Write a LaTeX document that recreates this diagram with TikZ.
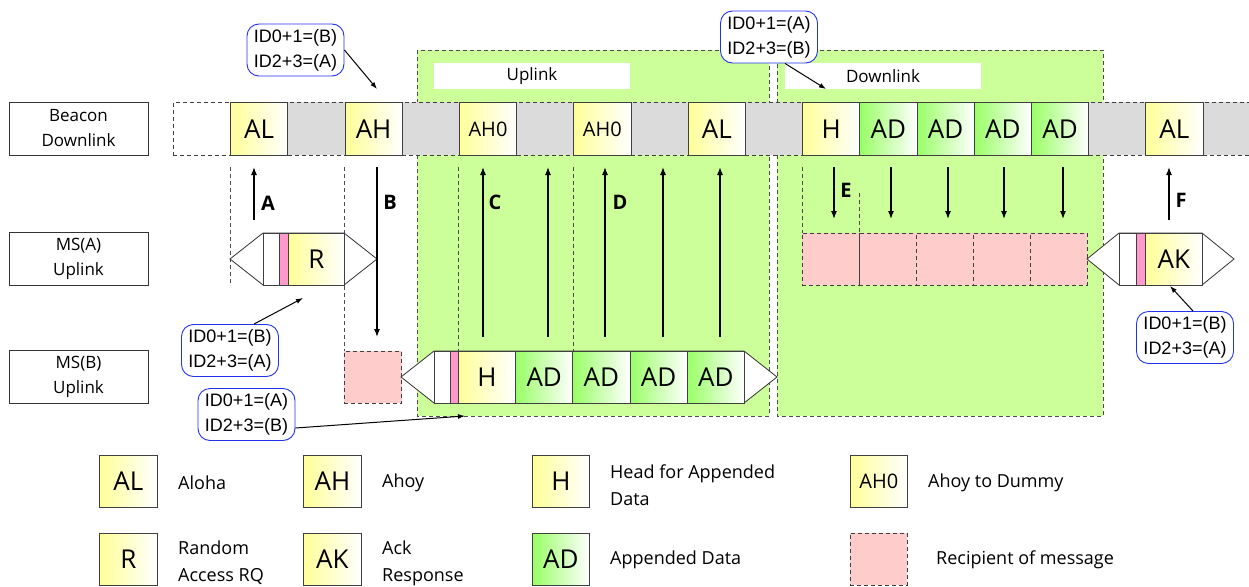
\documentclass[tikz,border=0pt]{standalone}
\usepackage{fontspec}
\setmainfont{Open Sans}
\newfontfamily\arialfont{Liberation Sans}
\usetikzlibrary{arrows.meta,calc}
\definecolor{bggreen}{HTML}{CCFF99}
\definecolor{slotgray}{HTML}{DBDBDB}
\definecolor{slotyel}{HTML}{FFFF99}
\definecolor{slotgrn}{HTML}{99FF66}
\definecolor{rcpink}{HTML}{FFCCCC}
\definecolor{stripe}{HTML}{FF99CC}
\definecolor{callblue}{HTML}{2233EE}
\begin{document}
\begin{tikzpicture}[x=1pt,y=-1pt,
  dashpat/.style={dash pattern=on 4pt off 3pt},
  slotbase/.style={draw=black!75, line width=0.8pt, minimum width=57.2pt, minimum height=53pt, inner sep=0pt, anchor=north west, font=\fontsize{26}{28}\selectfont},
  pslot/.style={slotbase, minimum height=52pt},
  yslot/.style={left color=slotyel, right color=white},
  gslot/.style={left color=slotgrn, right color=white},
  grayslot/.style={slotbase, fill=slotgray, dashpat},
  emptyslot/.style={slotbase, dashpat},
  rcpt/.style={pslot, fill=rcpink, dashpat},
  smallfont/.style={font=\fontsize{20}{22}\selectfont},
  rowlabel/.style={draw=black!80, line width=0.8pt, minimum width=139pt, minimum height=53pt, inner sep=0pt, align=center, font=\fontsize{17}{25}\selectfont},
  region/.style={fill=bggreen, draw=black!70, line width=0.8pt, dashpat},
  guide/.style={draw=black!70, line width=0.8pt, dashpat},
  hexframe/.style={draw=black!80, line width=0.8pt, fill=white},
  arr/.style={draw=black, line width=1.2pt, -{Latex[length=8pt,width=6pt]}},
  thinarr/.style={draw=black, line width=1pt, -{Latex[length=7pt,width=5pt]}},
  letter/.style={font=\bfseries\fontsize{20}{22}\selectfont, inner sep=0pt},
  callout/.style={draw=callblue, line width=0.9pt, rounded corners=12pt, fill=white, minimum width=97pt, minimum height=52pt, inner sep=3pt, align=left, font=\arialfont\fontsize{18}{25}\selectfont},
  legtext/.style={anchor=west, inner sep=0pt, align=left, font=\fontsize{18}{27}\selectfont},
  whitelabel/.style={fill=white, minimum width=196pt, minimum height=26pt, inner sep=0pt, font=\fontsize{17}{20}\selectfont}
]
\useasboundingbox (0,0) rectangle (1249,586);

% green regions
\path[region] (417,50) rectangle (769,416);
\path[region] (777,50) rectangle (1103,416);
\node[whitelabel] (uplab) at (532,76) {Uplink};
\node[whitelabel] (dnlab) at (883,76) {Downlink};

% row labels
\node[rowlabel] (lbeacon) at (78.5,128.5) {Beacon\\Downlink};
\node[rowlabel] (lmsa) at (78.5,259) {MS(A)\\Uplink};
\node[rowlabel] (lmsb) at (78.5,377) {MS(B)\\Uplink};

% dashed guide lines
\draw[guide] (230,167) -- (230,285);
\draw[guide] (344,167) -- (344,351);
\draw[guide] (458,167) -- (458,351);
\draw[guide] (573,167) -- (573,351);
\draw[guide] (802,167) -- (802,233);
\draw[guide] (859,193) -- (859,233);

% beacon row
\node[emptyslot] (b0) at (173,102) {};
\node[grayslot] (b2) at (287.4,102) {};
\node[grayslot] (b4) at (401.8,102) {};
\node[grayslot] (b6) at (516.2,102) {};
\node[grayslot] (b8) at (630.6,102) {};
\node[grayslot] (b10) at (745,102) {};
\node[grayslot] (b16) at (1088.2,102) {};
\node[grayslot] (b18) at (1202.6,102) {};
\node[slotbase,yslot] (b1) at (230.2,102) {AL};
\node[slotbase,yslot] (b3) at (344.6,102) {AH};
\node[slotbase,yslot,smallfont] (b5) at (459,102) {AH0};
\node[slotbase,yslot,smallfont] (b7) at (573.4,102) {AH0};
\node[slotbase,yslot] (b9) at (687.8,102) {AL};
\node[slotbase,yslot] (b11) at (802.2,102) {H};
\node[slotbase,gslot] (b12) at (859.4,102) {AD};
\node[slotbase,gslot] (b13) at (916.6,102) {AD};
\node[slotbase,gslot] (b14) at (973.8,102) {AD};
\node[slotbase,gslot] (b15) at (1031,102) {AD};
\node[slotbase,yslot] (b17) at (1145.4,102) {AL};

% MS(A) packet
\path[hexframe] (230,259) -- (263,233) -- (344,233) -- (377,259) -- (344,285) -- (263,285) -- cycle;
\node[pslot, fill=white, minimum width=16pt] (aw) at (263,233) {};
\node[pslot, fill=stripe, minimum width=9pt] (ap) at (279,233) {};
\node[pslot, yslot, minimum width=56pt] (aR) at (288,233) {R};

% MS(B) recipient box and packet
\node[rcpt] (brc) at (344,351) {};
\path[hexframe] (401,377) -- (434,351) -- (744,351) -- (777,377) -- (744,403) -- (434,403) -- cycle;
\node[pslot, fill=white, minimum width=16pt] (bw) at (434,351) {};
\node[pslot, fill=stripe, minimum width=8pt] (bp) at (450,351) {};
\node[pslot, yslot] (bH) at (458,351) {H};
\node[pslot, gslot] (bD1) at (515.2,351) {AD};
\node[pslot, gslot] (bD2) at (572.4,351) {AD};
\node[pslot, gslot] (bD3) at (629.6,351) {AD};
\node[pslot, gslot] (bD4) at (686.8,351) {AD};

% downlink recipients
\node[rcpt, minimum width=57pt] (r1) at (802,233) {};
\node[rcpt, minimum width=57pt] (r2) at (859,233) {};
\node[rcpt, minimum width=57pt] (r3) at (916,233) {};
\node[rcpt, minimum width=57pt] (r4) at (973,233) {};
\node[rcpt, minimum width=57pt] (r5) at (1030,233) {};
\draw[black!75, line width=0.8pt] (r2.north west) -- (r2.south west);

% AK packet
\path[hexframe] (1087,259) -- (1119,233) -- (1202,233) -- (1234,259) -- (1202,285) -- (1119,285) -- cycle;
\node[pslot, fill=white, minimum width=17pt] (kw) at (1119,233) {};
\node[pslot, fill=stripe, minimum width=9pt] (kp) at (1136,233) {};
\node[pslot, yslot, minimum width=57pt] (kA) at (1145,233) {AK};

% vertical arrows
\foreach \n/\x/\ya/\yb in {A/254/220/167, C/483/337/167, C2/548/337/167, D/605/337/167, D2/663/337/167, D3/720/337/167, F/1169/220/167,
  B/377/167/337, E/834/167/219, E2/891/167/219, E3/948/167/219, E4/1004/167/219, E5/1063/167/219}{
  \coordinate (s\n) at (\x,\ya);
  \coordinate (t\n) at (\x,\yb);
  \draw[arr] (s\n) -- (t\n);
}
\node[letter] (lA) at (268,203) {A};
\node[letter] (lB) at (390,202) {B};
\node[letter] (lC) at (495,202) {C};
\node[letter] (lD) at (620,202) {D};
\node[letter] (lE) at (846,190) {E};
\node[letter] (lF) at (1181,200) {F};

% callouts
\node[callout] (c1) at (295.5,50) {ID0+1=(B)\\ID2+3=(A)};
\node[callout] (c2) at (769,37) {ID0+1=(A)\\ID2+3=(B)};
\node[callout] (c3) at (230,350.5) {ID0+1=(B)\\ID2+3=(A)};
\node[callout] (c4) at (246.5,414.5) {ID0+1=(A)\\ID2+3=(B)};
\node[callout] (c5) at (1185,337.5) {ID0+1=(B)\\ID2+3=(A)};
\coordinate (p1) at (377,89);
\coordinate (p2) at (826,89);
\coordinate (p3) at (303,298);
\coordinate (p4) at (465,416);
\coordinate (p5) at (1170,286);
\draw[thinarr] (c1.east) -- (p1);
\draw[thinarr] ($(c2.south)+(16,0)$) -- (p2);
\draw[thinarr] ($(c3.north)+(24,0)$) -- (p3);
\draw[thinarr] ($(c4.east)+(0,13.5)$) -- (p4);
\draw[thinarr] ($(c5.north)+(8,0)$) -- (p5);

% legend
\node[slotbase, yslot, minimum height=52pt, minimum width=58pt] (gAL) at (99,455) {AL};
\node[legtext] (tAL) at (178,483) {Aloha};
\node[slotbase, yslot, minimum height=52pt, minimum width=58pt] (gR) at (99,533) {R};
\node[legtext] (tR) at (178,563) {Random\\Access RQ};
\node[slotbase, yslot, minimum height=52pt, minimum width=58pt] (gAH) at (303,455) {AH};
\node[legtext] (tAH) at (382,483) {Ahoy};
\node[slotbase, yslot, minimum height=52pt, minimum width=58pt] (gAK) at (303,533) {AK};
\node[legtext] (tAK) at (382,563) {Ack\\Response};
\node[slotbase, yslot, minimum height=52pt, minimum width=57pt] (gH) at (532,455) {H};
\node[legtext] (tH) at (610,485) {Head for Appended\\Data};
\node[slotbase, gslot, minimum height=52pt, minimum width=57pt] (gAD) at (532,533) {AD};
\node[legtext] (tAD) at (610,560) {Appended Data};
\node[slotbase, yslot, smallfont, minimum height=52pt, minimum width=57pt] (gAH0) at (850,455) {AH0};
\node[legtext] (tAH0) at (928,483) {Ahoy to Dummy};
\node[rcpt, minimum width=57pt] (gRc) at (850,533) {};
\node[legtext] (tRc) at (936,560) {Recipient of message};
\end{tikzpicture}
\end{document}
